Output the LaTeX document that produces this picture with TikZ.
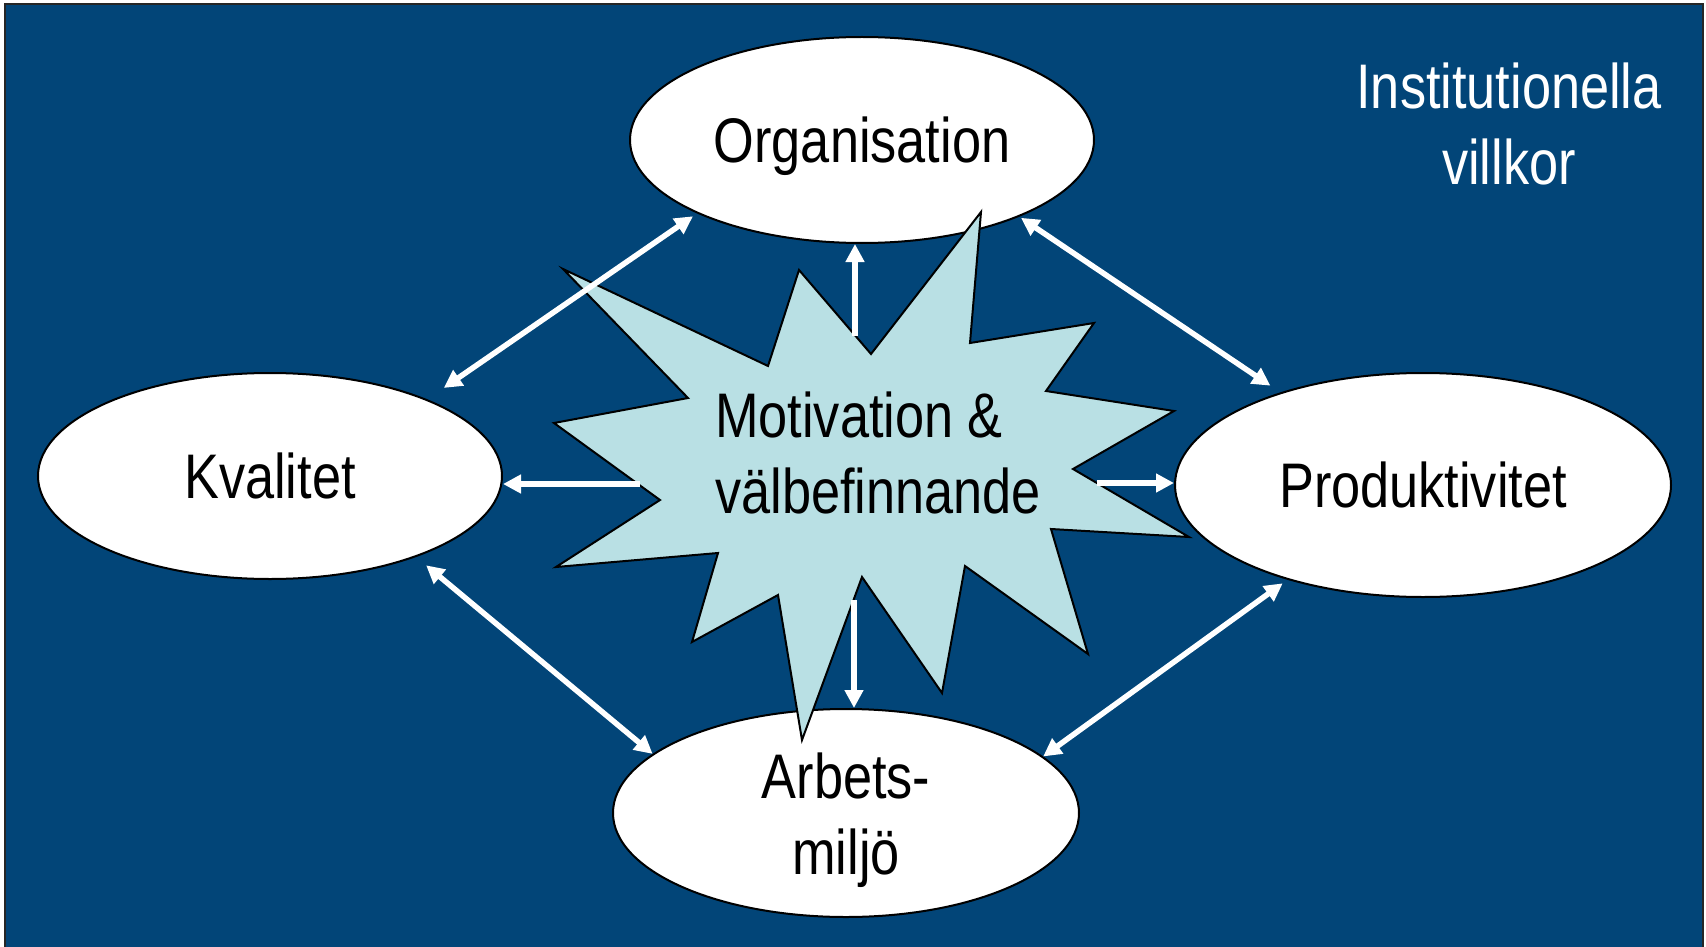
\documentclass[tikz,border=0pt]{standalone}
\usepackage{fontspec}
\setmainfont{Liberation Sans}[FakeStretch=0.83]
\usetikzlibrary{arrows.meta,shapes.geometric}
\definecolor{bgblue}{RGB}{2,69,120}
\definecolor{starblue}{RGB}{185,224,228}
\begin{document}
\begin{tikzpicture}[x=1pt,y=-1pt,
  lbl/.style={font=\fontsize{63}{76}\selectfont, inner sep=0pt},
  oval/.style={ellipse, draw=black, line width=2pt, fill=white, lbl, text height=45pt, text depth=0pt},
  conn/.style={draw=white, line width=5.5pt, {Triangle[length=18pt,width=18pt]}-{Triangle[length=18pt,width=18pt]}},
  oneway/.style={draw=white, line width=5.5pt, -{Triangle[length=18pt,width=18pt]}},
  starshape/.style={draw=black, line width=2pt, fill=starblue, line join=miter}
]
\useasboundingbox (0,0) rectangle (1706,947);
\fill[white] (0,0) rectangle (1706,947);
\draw[line width=2pt, draw=black!85, fill=bgblue] (5,4) rectangle (1703,960);

% ellipses
\node[oval, minimum width=464pt, minimum height=206pt] (org) at (862,140) {Organisation};
\node[oval, minimum width=464pt, minimum height=206pt] (kv) at (270,476) {Kvalitet};
\node[oval, minimum width=496pt, minimum height=224pt] (prod) at (1423,485) {Produktivitet};
\node[oval, align=center, text height=122pt, text depth=0pt, minimum width=466pt, minimum height=208pt] (arb) at (846,813) {Arbets-\\milj\"o};

% star
\draw[starshape] (981,212) -- (970,343) -- (1094,323) -- (1046,391) -- (1174,411) -- (1073,469)
  -- (1189,537) -- (1051,529) -- (1088,654) -- (965,566) -- (942,693) -- (862,577)
  -- (802,740) -- (778,595) -- (692,642) -- (718,553) -- (556,567) -- (660,500)
  -- (554,423) -- (688,398) -- (563,269) -- (768,366) -- (799,270) -- (871,354) -- cycle;

\node[lbl, anchor=west, align=left, text height=120pt, text depth=0pt] (mot) at (715,453) {Motivation \&\\v\"albefinnande};

\node[lbl, text=white, align=center, text height=121pt, text depth=0pt] (inst) at (1509,123.5) {Institutionella\\villkor};

% star arrows
\coordinate (sTop) at (855,336);
\coordinate (sLeft) at (640,484);
\coordinate (sRight) at (1097,483);
\coordinate (sBot) at (854,600);
\draw[oneway] (sTop) -- (sTop |- org.south);
\draw[oneway] (sLeft) -- (sLeft -| kv.east);
\draw[oneway] (sRight) -- (sRight -| prod.west);
\draw[oneway] (sBot) -- (sBot |- arb.north);

% double arrows
\draw[conn, shorten <=20pt, shorten >=5pt] (kv.26.7) -- (org.204.1);
\draw[conn, shorten <=2pt, shorten >=12pt] (org.-26) -- (prod.147.4);
\draw[conn, shorten <=13pt, shorten >=0pt] (kv.-29.6) -- (arb.163.9);
\draw[conn, shorten <=6pt, shorten >=0pt] (prod.215.1) -- (arb.16);
\end{tikzpicture}
\end{document}
